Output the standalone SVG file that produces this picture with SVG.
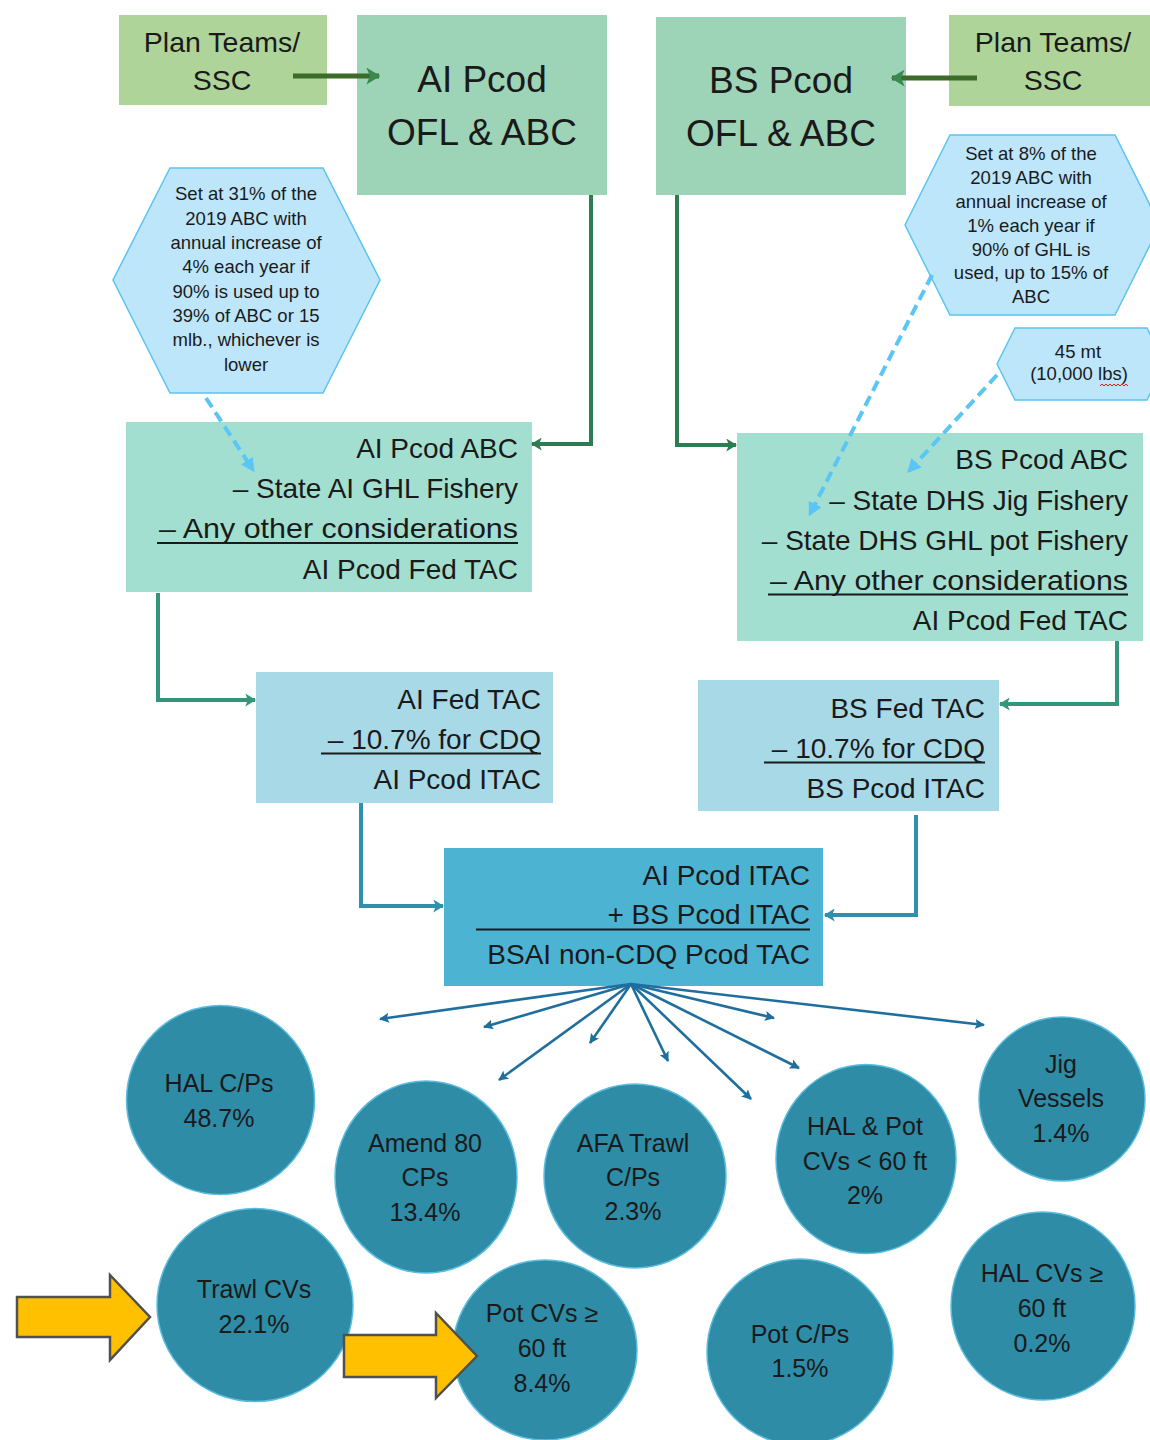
<svg xmlns="http://www.w3.org/2000/svg" width="1150" height="1440" viewBox="0 0 1150 1440">
<style>
text{font-family:"Liberation Sans",Arial,sans-serif;fill:#1a1a1a}
.t37{font-size:37px;text-anchor:middle}
.t27{font-size:28.5px;text-anchor:middle}
.t28{font-size:28px;text-anchor:end}
.hx{font-size:18.5px;text-anchor:middle}
.cc{font-size:25px;text-anchor:middle}
.plan{fill:#afd49a}
.ofl{fill:#9dd3b6}
.abc{fill:#a3dfd0}
.fed{fill:#a8d9e7}
.ctr{fill:#4db3d2}
.hex{fill:#bde6fa;stroke:#5bc4f1;stroke-width:1.5}
.circ{fill:#2e8ca7;stroke:#5abde0;stroke-width:1.5}
.ul{stroke:#1a1a1a;stroke-width:2}
.c1{fill:none;stroke:#2e7d52;stroke-width:4;marker-end:url(#mG1)}
.c2{fill:none;stroke:#33967a;stroke-width:4;marker-end:url(#mG2)}
.c3{fill:none;stroke:#2e8fae;stroke-width:4;marker-end:url(#mB)}
.dash{fill:none;stroke:#5bc6f5;stroke-width:4;stroke-dasharray:11 6;marker-end:url(#mD)}
.fan{fill:none;stroke:#1f6f9e;stroke-width:2.6;marker-end:url(#mF)}
.pt{fill:none;stroke:#3c6b2a;stroke-width:5;marker-end:url(#mP)}
.ya{fill:#ffc000;stroke:#505050;stroke-width:2.5}
</style>
<defs>
<marker id="mG1" viewBox="0 0 10 12" markerUnits="userSpaceOnUse" markerWidth="11" markerHeight="13" refX="9" refY="6" orient="auto"><path d="M0,0 L10,6 L0,12 L2.5,6 z" fill="#2e7d52"/></marker>
<marker id="mG2" viewBox="0 0 10 12" markerUnits="userSpaceOnUse" markerWidth="11" markerHeight="13" refX="9" refY="6" orient="auto"><path d="M0,0 L10,6 L0,12 L2.5,6 z" fill="#33967a"/></marker>
<marker id="mB" viewBox="0 0 10 12" markerUnits="userSpaceOnUse" markerWidth="11" markerHeight="13" refX="9" refY="6" orient="auto"><path d="M0,0 L10,6 L0,12 L2.5,6 z" fill="#2e8fae"/></marker>
<marker id="mP" viewBox="0 0 10 12" markerUnits="userSpaceOnUse" markerWidth="14" markerHeight="17" refX="9" refY="6" orient="auto"><path d="M0,0 L10,6 L0,12 L2.5,6 z" fill="#3a8a4f"/></marker>
<marker id="mD" viewBox="0 0 10 10" markerUnits="userSpaceOnUse" markerWidth="14" markerHeight="14" refX="8" refY="5" orient="auto"><path d="M0,0 L10,5 L0,10 z" fill="#5bc6f5"/></marker>
<marker id="mF" viewBox="0 0 10 10" markerUnits="userSpaceOnUse" markerWidth="10" markerHeight="10" refX="9" refY="5" orient="auto"><path d="M0,0 L10,5 L0,10 L2,5 z" fill="#1f6f9e"/></marker>
</defs>
<rect width="1150" height="1440" fill="#ffffff"/>

<g id="plan-left">
<rect class="plan" x="119" y="15" width="208" height="90"/>
<text class="t27" x="222" y="52">Plan Teams/</text>
<text class="t27" x="222" y="90">SSC</text>
</g>
<g id="ai-ofl">
<rect class="ofl" x="357" y="15" width="250" height="180"/>
<text class="t37" x="482" y="92">AI Pcod</text>
<text class="t37" x="482" y="145">OFL &amp; ABC</text>
</g>
<g id="bs-ofl">
<rect class="ofl" x="656" y="17" width="250" height="178"/>
<text class="t37" x="781" y="93">BS Pcod</text>
<text class="t37" x="781" y="146">OFL &amp; ABC</text>
</g>
<g id="plan-right">
<rect class="plan" x="949" y="15" width="201" height="91"/>
<text class="t27" x="1053" y="52">Plan Teams/</text>
<text class="t27" x="1053" y="90">SSC</text>
</g>

<g id="hex-ai">
<polygon class="hex" points="170,168 323,168 380,280 323,393 170,393 113,280"/>
<text class="hx" x="246" y="200">Set at 31% of the</text>
<text class="hx" x="246" y="224.5">2019 ABC with</text>
<text class="hx" x="246" y="249">annual increase of</text>
<text class="hx" x="246" y="273">4% each year if</text>
<text class="hx" x="246" y="297.5">90% is used up to</text>
<text class="hx" x="246" y="322">39% of ABC or 15</text>
<text class="hx" x="246" y="346">mlb., whichever is</text>
<text class="hx" x="246" y="371">lower</text>
</g>
<g id="hex-bs">
<polygon class="hex" points="950,135 1115,135 1160,225 1115,315 950,315 905,225"/>
<text class="hx" x="1031" y="160">Set at 8% of the</text>
<text class="hx" x="1031" y="184">2019 ABC with</text>
<text class="hx" x="1031" y="208">annual increase of</text>
<text class="hx" x="1031" y="231.5">1% each year if</text>
<text class="hx" x="1031" y="255.5">90% of GHL is</text>
<text class="hx" x="1031" y="279">used, up to 15% of</text>
<text class="hx" x="1031" y="303">ABC</text>
</g>
<g id="hex-45">
<polygon class="hex" points="1015,328 1147,328 1165,364 1147,400 1015,400 997,364"/>
<text class="hx" x="1078" y="358">45 mt</text>
<text class="hx" x="1079" y="380">(10,000 lbs)</text>
<path d="M1100,386 l2,-2 l2,2 l2,-2 l2,2 l2,-2 l2,2 l2,-2 l2,2 l2,-2 l2,2 l2,-2 l2,2 l2,-2 l2,2" fill="none" stroke="#e02020" stroke-width="1"/>
</g>

<g id="ai-abc">
<rect class="abc" x="126" y="422" width="406" height="170"/>
<text class="t28" x="518" y="458">AI Pcod ABC</text>
<text class="t28" x="518" y="498">– State AI GHL Fishery</text>
<text class="t28" x="518" y="538" textLength="359" lengthAdjust="spacingAndGlyphs">– Any other considerations</text>
<line class="ul" x1="157" y1="543" x2="518" y2="543"/>
<text class="t28" x="518" y="579">AI Pcod Fed TAC</text>
</g>
<g id="bs-abc">
<rect class="abc" x="737" y="433" width="406" height="208"/>
<text class="t28" x="1128" y="469">BS Pcod ABC</text>
<text class="t28" x="1128" y="509.5">– State DHS Jig Fishery</text>
<text class="t28" x="1128" y="550">– State DHS GHL pot Fishery</text>
<text class="t28" x="1128" y="590" textLength="358" lengthAdjust="spacingAndGlyphs">– Any other considerations</text>
<line class="ul" x1="768" y1="594.5" x2="1128" y2="594.5"/>
<text class="t28" x="1128" y="630">AI Pcod Fed TAC</text>
</g>
<g id="ai-fed">
<rect class="fed" x="256" y="672" width="297" height="131"/>
<text class="t28" x="541" y="709">AI Fed TAC</text>
<text class="t28" x="541" y="749">– 10.7% for CDQ</text>
<line class="ul" x1="321" y1="753.5" x2="541" y2="753.5"/>
<text class="t28" x="541" y="789">AI Pcod ITAC</text>
</g>
<g id="bs-fed">
<rect class="fed" x="698" y="680" width="301" height="131"/>
<text class="t28" x="985" y="718">BS Fed TAC</text>
<text class="t28" x="985" y="758">– 10.7% for CDQ</text>
<line class="ul" x1="764" y1="762.5" x2="985" y2="762.5"/>
<text class="t28" x="985" y="798">BS Pcod ITAC</text>
</g>
<g id="bsai">
<rect class="ctr" x="444" y="848" width="379" height="138"/>
<text class="t28" x="810" y="885">AI Pcod ITAC</text>
<text class="t28" x="810" y="924">+ BS Pcod ITAC</text>
<line class="ul" x1="476" y1="929.5" x2="810" y2="929.5"/>
<text class="t28" x="810" y="964">BSAI non-CDQ Pcod TAC</text>
</g>

<g id="connectors">
<line class="pt" x1="293" y1="76" x2="379" y2="76"/>
<line class="pt" x1="977" y1="78" x2="892" y2="78"/>
<path class="c1" d="M591,195 V444 H532"/>
<path class="c1" d="M677,195 V445 H736"/>
<path class="c2" d="M158,593 V700 H255"/>
<path class="c2" d="M1117,641 V704 H1000"/>
<path class="c3" d="M361,803 V906 H443"/>
<path class="c3" d="M916,815 V915 H825"/>
<line class="dash" x1="206" y1="398" x2="253" y2="470"/>
<line class="dash" x1="932" y1="275" x2="810" y2="514"/>
<line class="dash" x1="997" y1="375" x2="909" y2="471"/>
<line class="fan" x1="631" y1="984" x2="380" y2="1019"/>
<line class="fan" x1="631" y1="984" x2="484" y2="1027"/>
<line class="fan" x1="631" y1="984" x2="590" y2="1043"/>
<line class="fan" x1="631" y1="984" x2="499" y2="1080"/>
<line class="fan" x1="631" y1="984" x2="668" y2="1061"/>
<line class="fan" x1="631" y1="984" x2="751" y2="1099"/>
<line class="fan" x1="631" y1="984" x2="799" y2="1068"/>
<line class="fan" x1="631" y1="984" x2="774" y2="1018"/>
<line class="fan" x1="631" y1="984" x2="984" y2="1025"/>
</g>

<g id="hal-cp">
<ellipse class="circ" cx="220.5" cy="1100" rx="94" ry="94.5"/>
<text class="cc" x="219" y="1092">HAL C/Ps</text>
<text class="cc" x="219" y="1127">48.7%</text>
</g>
<g id="amend80">
<ellipse class="circ" cx="426" cy="1177" rx="91" ry="96"/>
<text class="cc" x="425" y="1152">Amend 80</text>
<text class="cc" x="425" y="1186">CPs</text>
<text class="cc" x="425" y="1221">13.4%</text>
</g>
<g id="afa">
<ellipse class="circ" cx="635" cy="1176" rx="91" ry="92"/>
<text class="cc" x="633" y="1152">AFA Trawl</text>
<text class="cc" x="633" y="1186">C/Ps</text>
<text class="cc" x="633" y="1220">2.3%</text>
</g>
<g id="hal-pot">
<ellipse class="circ" cx="866" cy="1159" rx="90" ry="94.5"/>
<text class="cc" x="865" y="1135">HAL &amp; Pot</text>
<text class="cc" x="865" y="1170">CVs &lt; 60 ft</text>
<text class="cc" x="865" y="1204">2%</text>
</g>
<g id="jig">
<ellipse class="circ" cx="1062" cy="1099" rx="83" ry="82"/>
<text class="cc" x="1061" y="1073">Jig</text>
<text class="cc" x="1061" y="1107">Vessels</text>
<text class="cc" x="1061" y="1142">1.4%</text>
</g>
<g id="trawl-cv">
<ellipse class="circ" cx="255" cy="1305" rx="98" ry="96.5"/>
<text class="cc" x="254" y="1298">Trawl CVs</text>
<text class="cc" x="254" y="1333">22.1%</text>
</g>
<g id="pot-cv">
<ellipse class="circ" cx="545" cy="1350" rx="92" ry="90"/>
<text class="cc" x="542" y="1322">Pot CVs ≥</text>
<text class="cc" x="542" y="1357">60 ft</text>
<text class="cc" x="542" y="1392">8.4%</text>
</g>
<g id="pot-cp">
<ellipse class="circ" cx="800" cy="1352" rx="93" ry="93"/>
<text class="cc" x="800" y="1343">Pot C/Ps</text>
<text class="cc" x="800" y="1377">1.5%</text>
</g>
<g id="hal-cv">
<ellipse class="circ" cx="1043" cy="1306" rx="92" ry="94"/>
<text class="cc" x="1042" y="1282">HAL CVs ≥</text>
<text class="cc" x="1042" y="1317">60 ft</text>
<text class="cc" x="1042" y="1352">0.2%</text>
</g>

<g id="yellow-arrow-1">
<polygon class="ya" points="17,1297 110,1297 110,1275 150,1317 110,1360 110,1337 17,1337"/>
</g>
<g id="yellow-arrow-2">
<polygon class="ya" points="344,1335 436,1335 436,1313 477,1356 436,1398 436,1377 344,1377"/>
</g>
</svg>
